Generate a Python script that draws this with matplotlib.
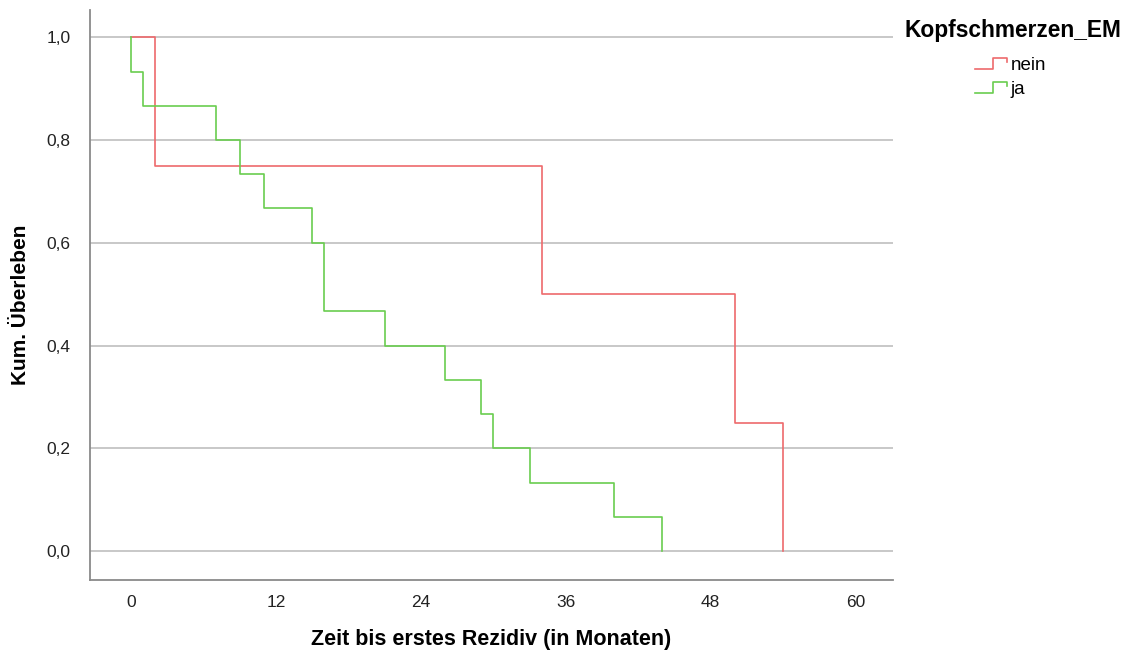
# %% Packages

import numpy as np
import matplotlib
matplotlib.use('Agg')
import matplotlib.pyplot as plt
from matplotlib.lines import Line2D
from matplotlib.legend_handler import HandlerBase

# %% Data (Kaplan-Meier)

t_nein = [0, 2, 34, 50, 54]
s_nein = [1.0, 0.75, 0.5, 0.25, 0.0]

t_ja = [0, 0, 1, 7, 9, 11, 15, 16, 21, 26, 29, 30, 33, 40, 44]
s_ja = [1.0, 0.933, 0.867, 0.8, 0.733, 0.667, 0.6, 0.467, 0.4, 0.333,
        0.267, 0.2, 0.133, 0.067, 0.0]

group_labels = ['nein', 'ja']
x_ticks = [0, 12, 24, 36, 48, 60]
y_ticks = [0.0, 0.2, 0.4, 0.6, 0.8, 1.0]

c_nein = '#ee6a6c'
c_ja = '#6acd4f'

narrow = ['Liberation Sans Narrow', 'Liberation Sans', 'DejaVu Sans']
plt.rcParams['font.family'] = ['Liberation Sans', 'DejaVu Sans']


class StepHandler(HandlerBase):
    # small step-shaped legend key, like SPSS draws it
    def create_artists(self, legend, orig_handle, xdescent, ydescent,
                       width, height, fontsize, trans):
        xs = np.array([0.0, 0.55, 0.55, 0.97, 0.97]) * width - xdescent
        ys = np.array([0.1, 0.1, 0.9, 0.9, 0.6]) * height - ydescent
        ln = Line2D(xs, ys, color=orig_handle.get_color(), lw=1.2)
        ln.set_transform(trans)
        return [ln]


# %% Plot

W, H = 1127, 655
fig = plt.figure(figsize=(W / 100, H / 100), dpi=100)
ax = fig.add_axes([90 / W, 1 - 580 / H, (893 - 90) / W, (580 - 10) / H])

l1, = ax.plot(t_nein, s_nein, drawstyle='steps-post', color=c_nein, lw=1.2)
l2, = ax.plot(t_ja, s_ja, drawstyle='steps-post', color=c_ja, lw=1.2)

ax.set_xlim(-3.4, 63.1)
ax.set_ylim(-0.056, 1.053)
ax.set_xticks(x_ticks)
ax.set_yticks(y_ticks)
ax.set_xticklabels([str(v) for v in x_ticks], family=narrow, fontsize=12.5)
ax.set_yticklabels([f'{v:.1f}'.replace('.', ',') for v in y_ticks],
                   family=narrow, fontsize=12.5)
ax.tick_params(length=0, colors='#222222')
ax.tick_params(axis='x', pad=11)
ax.tick_params(axis='y', pad=14)

ax.yaxis.grid(True, color='#c4c4c4', lw=1.3)
ax.set_axisbelow(True)
for side in ['top', 'right']:
    ax.spines[side].set_visible(False)
for side in ['left', 'bottom']:
    ax.spines[side].set_color('#8a8a8a')
    ax.spines[side].set_linewidth(1.3)

ax.set_xlabel('Zeit bis erstes Rezidiv (in Monaten)', family=narrow,
              fontsize=15.5, fontweight='bold', va='center')
ax.xaxis.set_label_coords(0.5, -(639 - 580) / 570)
ax.set_ylabel('Kum. Überleben', family=narrow, fontsize=15,
              fontweight='bold', va='center')
ax.yaxis.set_label_coords(-(90 - 21) / 803, (580 - 305) / 570)

fig.text(904 / W, 1 - 30 / H, 'Kopfschmerzen_EM', fontsize=16.4,
         fontweight='bold', va='center', ha='left')
fig.legend([l1, l2], group_labels, handler_map={Line2D: StepHandler()},
           loc='upper left', bbox_to_anchor=(975 / W, 1 - 57 / H),
           frameon=False, fontsize=13.5, handlelength=1.75, handletextpad=0.15,
           labelspacing=0.35, borderpad=0, borderaxespad=0)

fig.savefig('out.png', dpi=100)
